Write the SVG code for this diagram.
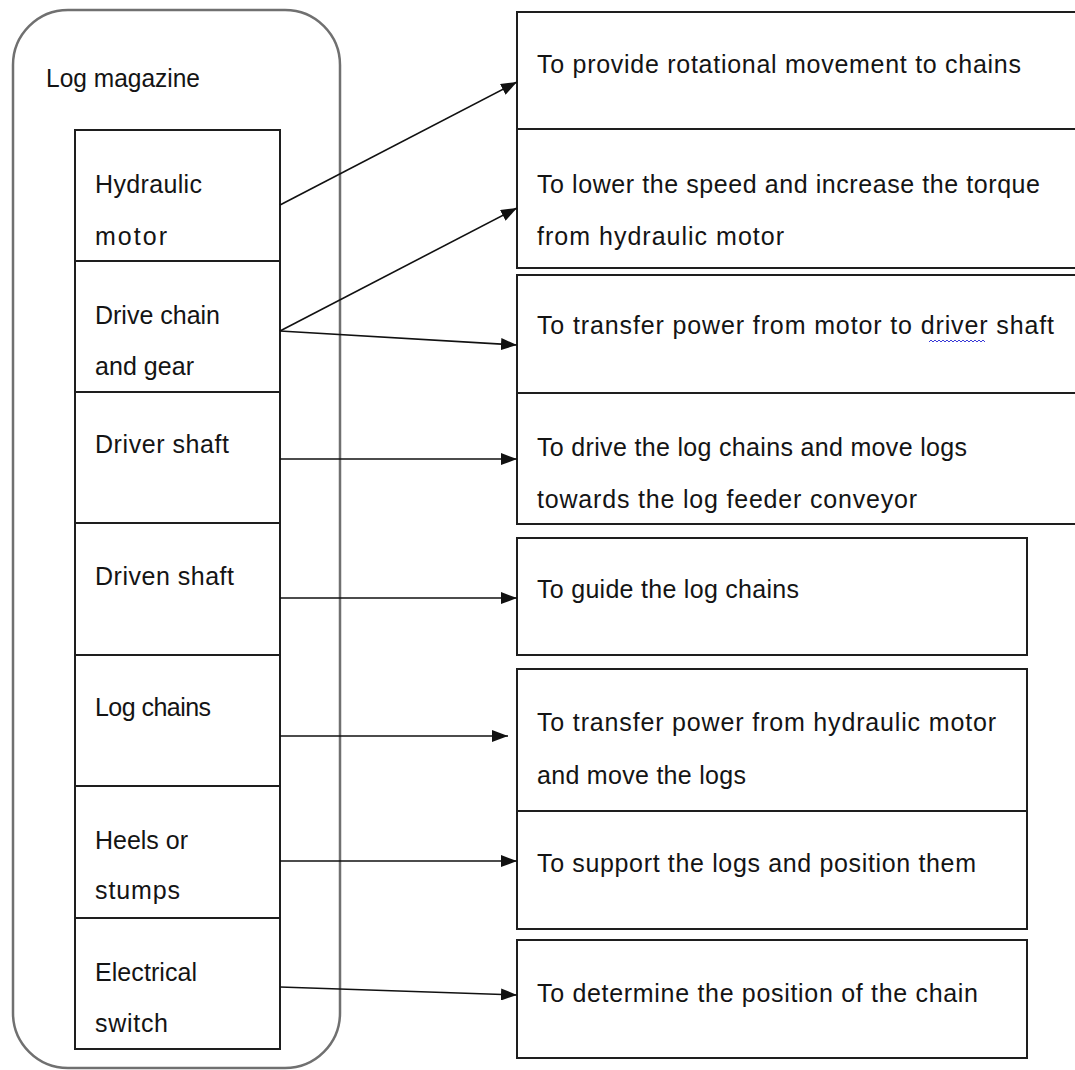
<svg xmlns="http://www.w3.org/2000/svg" width="1075" height="1070" viewBox="0 0 1075 1070">
<style>
  .bg { fill: #ffffff; }
  .container { fill: none; stroke: #707070; stroke-width: 2.5; }
  .box { fill: #ffffff; stroke: #1e1e1e; stroke-width: 2; }
  .lbl { font-family: "Liberation Sans", Arial, sans-serif; font-size: 25px; fill: #141414; }
  .conn { fill: none; stroke: #111111; stroke-width: 1.6; }
  .squiggle { fill: none; stroke: #3a3ad8; stroke-width: 1; }
</style>
<defs>
  <marker id="arr" viewBox="0 0 16 12" refX="16" refY="6" markerWidth="16" markerHeight="12" markerUnits="userSpaceOnUse" orient="auto">
    <path d="M0,0 L16,6 L0,12 z" fill="#111111"/>
  </marker>
</defs>
<rect class="bg" x="0" y="0" width="1075" height="1070"/>

<g id="log-magazine">
  <rect class="container" x="13" y="10" width="327" height="1058" rx="55" ry="55"/>
  <text class="lbl" x="46" y="87" textLength="154" lengthAdjust="spacingAndGlyphs">Log magazine</text>
</g>

<g id="hydraulic-motor">
  <rect class="box" x="75" y="130" width="205" height="131"/>
  <text class="lbl" x="95" y="193" textLength="107">Hydraulic</text>
  <text class="lbl" x="95" y="245" textLength="72">motor</text>
</g>
<g id="drive-chain-gear">
  <rect class="box" x="75" y="261" width="205" height="131"/>
  <text class="lbl" x="95" y="324" textLength="125">Drive chain</text>
  <text class="lbl" x="95" y="375" textLength="99">and gear</text>
</g>
<g id="driver-shaft">
  <rect class="box" x="75" y="392" width="205" height="131"/>
  <text class="lbl" x="95" y="453" textLength="134">Driver shaft</text>
</g>
<g id="driven-shaft">
  <rect class="box" x="75" y="523" width="205" height="132"/>
  <text class="lbl" x="95" y="585" textLength="139">Driven shaft</text>
</g>
<g id="log-chains">
  <rect class="box" x="75" y="655" width="205" height="131"/>
  <text class="lbl" x="95" y="716" textLength="116">Log chains</text>
</g>
<g id="heels-stumps">
  <rect class="box" x="75" y="786" width="205" height="132"/>
  <text class="lbl" x="95" y="849" textLength="93">Heels or</text>
  <text class="lbl" x="95" y="899" textLength="85">stumps</text>
</g>
<g id="electrical-switch">
  <rect class="box" x="75" y="918" width="205" height="131"/>
  <text class="lbl" x="95" y="981" textLength="102">Electrical</text>
  <text class="lbl" x="95" y="1032" textLength="73">switch</text>
</g>

<g id="f-rotation">
  <rect class="box" x="517" y="12" width="570" height="117"/>
  <text class="lbl" x="537" y="73" textLength="484">To provide rotational movement to chains</text>
</g>
<g id="f-torque">
  <rect class="box" x="517" y="129" width="570" height="139"/>
  <text class="lbl" x="537" y="193" textLength="503">To lower the speed and increase the torque</text>
  <text class="lbl" x="537" y="245" textLength="247">from hydraulic motor</text>
</g>
<g id="f-transfer-shaft">
  <rect class="box" x="517" y="275" width="570" height="118"/>
  <text class="lbl" x="537" y="334" textLength="517">To transfer power from motor to driver shaft</text>
  <path class="squiggle" d="M929,342 l2,-2 l2,2 l2,-2 l2,2 l2,-2 l2,2 l2,-2 l2,2 l2,-2 l2,2 l2,-2 l2,2 l2,-2 l2,2 l2,-2 l2,2 l2,-2 l2,2 l2,-2 l2,2 l2,-2 l2,2 l2,-2 l2,2 l2,-2 l2,2 l2,-2 l2,2"/>
</g>
<g id="f-drive-logs">
  <rect class="box" x="517" y="393" width="570" height="131"/>
  <text class="lbl" x="537" y="456" textLength="430">To drive the log chains and move logs</text>
  <text class="lbl" x="537" y="508" textLength="380">towards the log feeder conveyor</text>
</g>
<g id="f-guide">
  <rect class="box" x="517" y="538" width="510" height="117"/>
  <text class="lbl" x="537" y="598" textLength="262">To guide the log chains</text>
</g>
<g id="f-transfer-logs">
  <rect class="box" x="517" y="669" width="510" height="142"/>
  <text class="lbl" x="537" y="731" textLength="459">To transfer power from hydraulic motor</text>
  <text class="lbl" x="537" y="784" textLength="209">and move the logs</text>
</g>
<g id="f-support">
  <rect class="box" x="517" y="811" width="510" height="118"/>
  <text class="lbl" x="537" y="872" textLength="439">To support the logs and position them</text>
</g>
<g id="f-position">
  <rect class="box" x="517" y="940" width="510" height="118"/>
  <text class="lbl" x="537" y="1002" textLength="441">To determine the position of the chain</text>
</g>

<g id="connectors">
  <line class="conn" x1="280" y1="205" x2="517" y2="82" marker-end="url(#arr)"/>
  <line class="conn" x1="280" y1="331" x2="517" y2="208" marker-end="url(#arr)"/>
  <line class="conn" x1="280" y1="331" x2="517" y2="345" marker-end="url(#arr)"/>
  <line class="conn" x1="280" y1="459" x2="517" y2="459" marker-end="url(#arr)"/>
  <line class="conn" x1="280" y1="598" x2="517" y2="598" marker-end="url(#arr)"/>
  <line class="conn" x1="280" y1="736" x2="508" y2="736" marker-end="url(#arr)"/>
  <line class="conn" x1="280" y1="861" x2="517" y2="861" marker-end="url(#arr)"/>
  <line class="conn" x1="280" y1="987" x2="517" y2="995" marker-end="url(#arr)"/>
</g>
</svg>
